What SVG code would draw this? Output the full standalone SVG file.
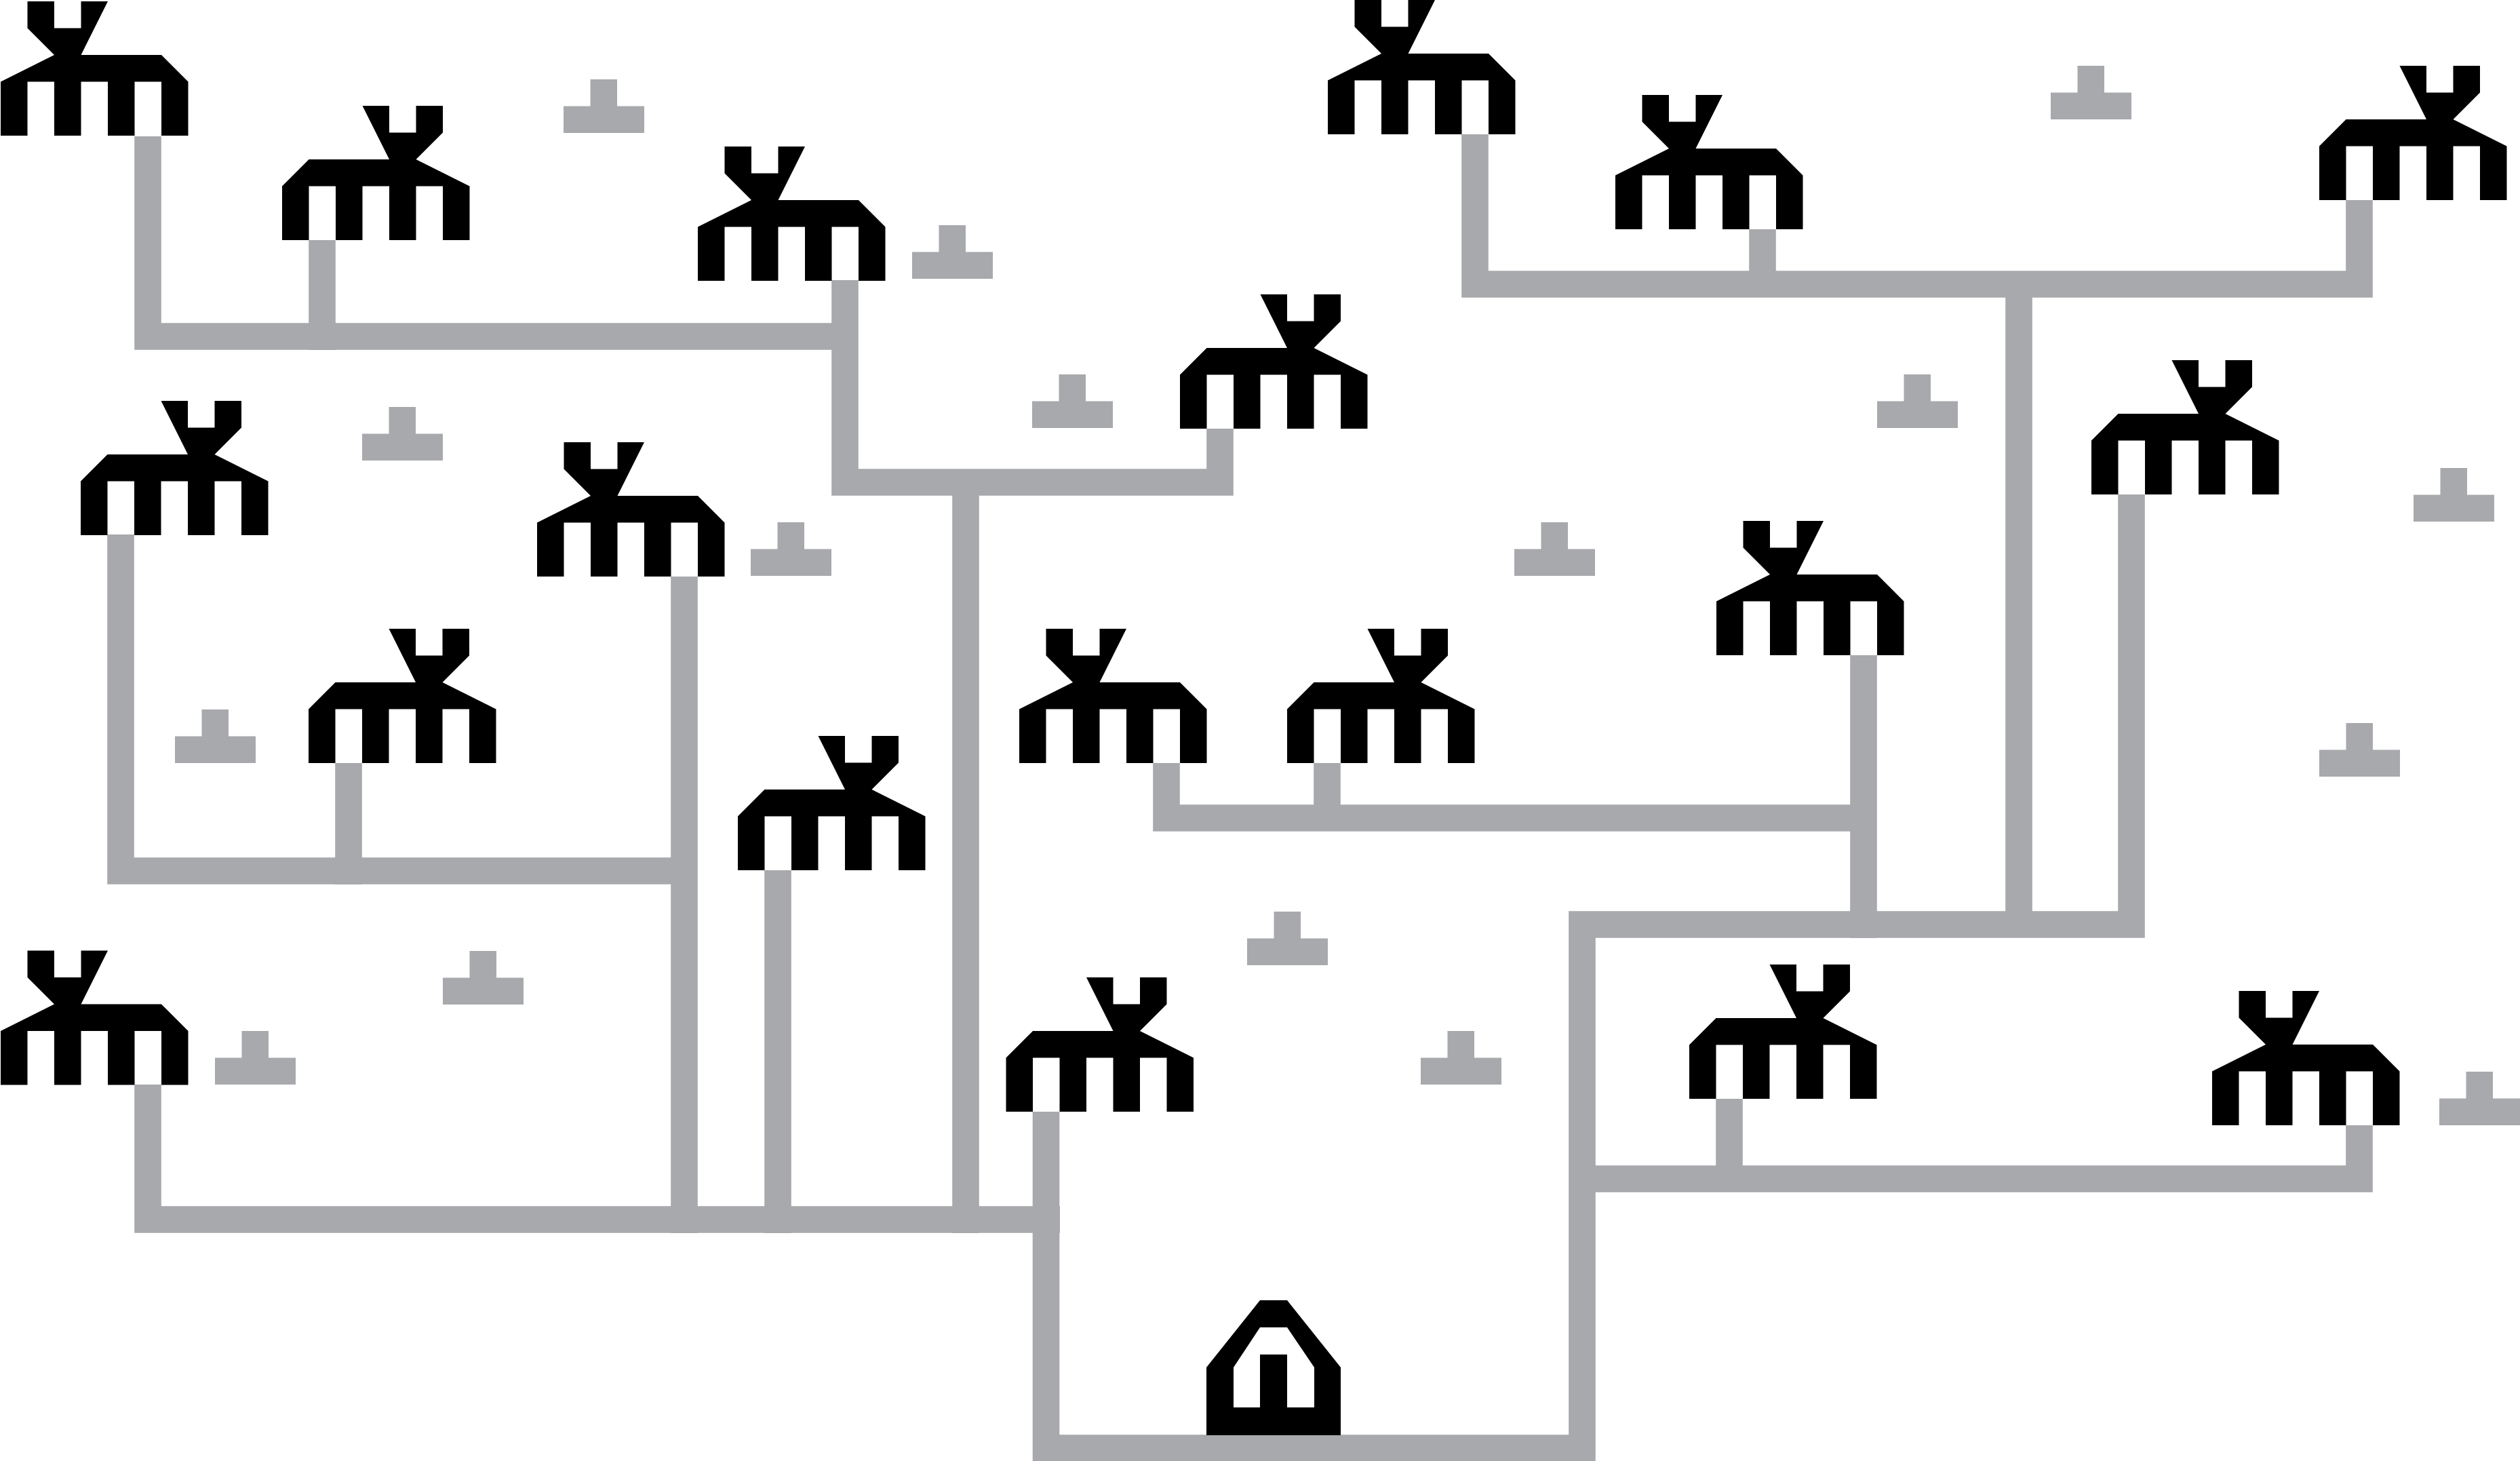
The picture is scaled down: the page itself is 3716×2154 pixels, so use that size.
<svg xmlns="http://www.w3.org/2000/svg" width="3716" height="2154" viewBox="0 0 3716 2154">
<style>
.bg{fill:#fff}
.moose,.hut{fill:#000}
.mound{fill:#a7a9ac}
.c{fill:none;stroke:#a7a9ac;stroke-width:39.6;stroke-linejoin:miter;stroke-linecap:butt}
</style>
<defs>
<path id="mA" d="M39.5 0H79V39.5H118.5V0H158L118.5 79H237L276.5 118.5V198H237V118.5H197.5V198H158V118.5H118.5V198H79V118.5H39.5V198H0V118.5L79 79L39.5 39.5Z"/>
<path id="mB" d="M237 0H197.5V39.5H158V0H118.5L158 79H39.5L0 118.5V198H39.5V118.5H79V198H118.5V118.5H158V198H197.5V118.5H237V198H276.5V118.5L197.5 79L237 39.5Z"/>
<path id="md" d="M39.5 0H79V39.5H119V79H0V39.5H39.5Z"/>
</defs>
<rect class="bg" width="3716" height="2154"/>
<g id="connectors" class="c">
<path d="M218 201V496H1246"/>
<path d="M475 354V516"/>
<path d="M1246 413V711H1799V632"/>
<path d="M1424 711V1818"/>
<path d="M178 788V1284H1009"/>
<path d="M514 1125V1304"/>
<path d="M1009 850V1818"/>
<path d="M1147 1283V1818"/>
<path d="M218 1599V1798H1563"/>
<path d="M1542.5 1639V2135H2333V1363H3143V729"/>
<path d="M2550 1620V1738"/>
<path d="M2333 1738H3479V1659"/>
<path d="M2748 966V1383"/>
<path d="M1720 1125V1206H2748"/>
<path d="M1957 1125V1206"/>
<path d="M2977 419V1363"/>
<path d="M2175 198V419H3479V295"/>
<path d="M2599 338V419"/>
</g>
<g id="mound1" class="mound"><use href="#md" x="831" y="117"/></g>
<g id="mound2" class="mound"><use href="#md" x="3024" y="97"/></g>
<g id="mound3" class="mound"><use href="#md" x="1345" y="332"/></g>
<g id="mound4" class="mound"><use href="#md" x="1522" y="552"/></g>
<g id="mound5" class="mound"><use href="#md" x="2768" y="552"/></g>
<g id="mound6" class="mound"><use href="#md" x="534" y="600"/></g>
<g id="mound7" class="mound"><use href="#md" x="3559" y="690"/></g>
<g id="mound8" class="mound"><use href="#md" x="1107" y="770"/></g>
<g id="mound9" class="mound"><use href="#md" x="2233" y="770"/></g>
<g id="mound10" class="mound"><use href="#md" x="258" y="1046"/></g>
<g id="mound11" class="mound"><use href="#md" x="3420" y="1066"/></g>
<g id="mound12" class="mound"><use href="#md" x="1839" y="1344"/></g>
<g id="mound13" class="mound"><use href="#md" x="653" y="1402"/></g>
<g id="mound14" class="mound"><use href="#md" x="317" y="1520"/></g>
<g id="mound15" class="mound"><use href="#md" x="2095" y="1520"/></g>
<g id="mound16" class="mound"><use href="#md" x="3597" y="1580"/></g>
<g id="moose1" class="moose"><use href="#mA" x="1" y="2"/></g>
<g id="moose2" class="moose"><use href="#mB" x="416" y="156"/></g>
<g id="moose3" class="moose"><use href="#mA" x="1029" y="216"/></g>
<g id="moose4" class="moose"><use href="#mB" x="1740" y="434"/></g>
<g id="moose5" class="moose"><use href="#mA" x="1958" y="0"/></g>
<g id="moose6" class="moose"><use href="#mA" x="2382" y="140"/></g>
<g id="moose7" class="moose"><use href="#mB" x="3420" y="97"/></g>
<g id="moose8" class="moose"><use href="#mB" x="3084" y="531"/></g>
<g id="moose9" class="moose"><use href="#mA" x="2531" y="768"/></g>
<g id="moose10" class="moose"><use href="#mA" x="1503" y="927"/></g>
<g id="moose11" class="moose"><use href="#mB" x="1898" y="927"/></g>
<g id="moose12" class="moose"><use href="#mB" x="119" y="591"/></g>
<g id="moose13" class="moose"><use href="#mA" x="792" y="652"/></g>
<g id="moose14" class="moose"><use href="#mB" x="455" y="927"/></g>
<g id="moose15" class="moose"><use href="#mB" x="1088" y="1085"/></g>
<g id="moose16" class="moose"><use href="#mA" x="1" y="1401.5"/></g>
<g id="moose17" class="moose"><use href="#mB" x="1483.5" y="1441"/></g>
<g id="moose18" class="moose"><use href="#mB" x="2491" y="1422"/></g>
<g id="moose19" class="moose"><use href="#mA" x="3262" y="1461"/></g>
<g id="hut" class="hut"><path d="M1858 1917H1898L1977 2016V2116H1779V2016ZM1858 1957L1819 2016V2075H1858V1997H1898V2075H1938V2016L1898 1957Z" fill-rule="evenodd"/></g>
</svg>
